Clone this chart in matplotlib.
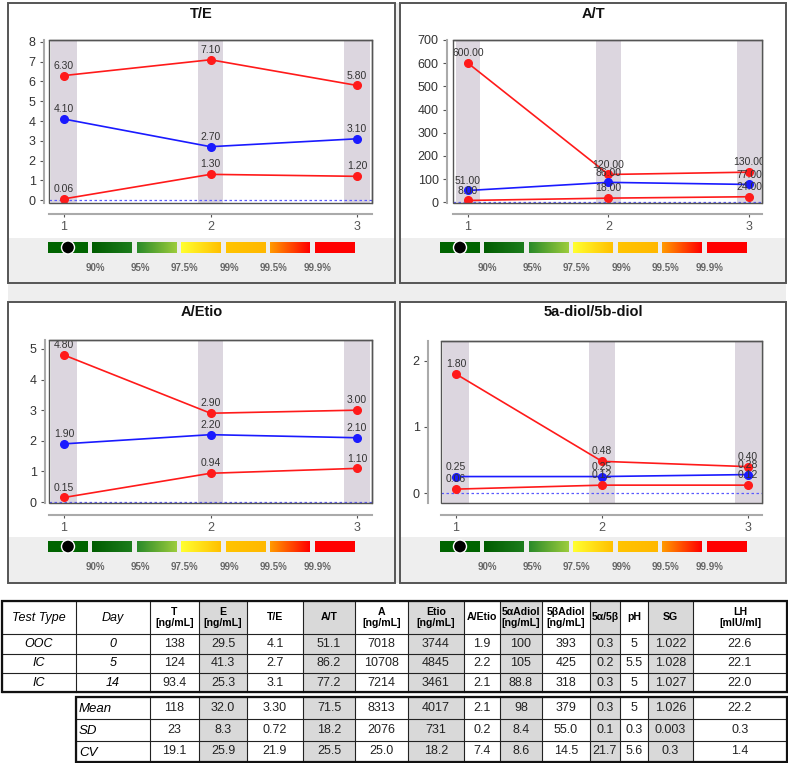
import numpy as np
import matplotlib
matplotlib.use('Agg')
import matplotlib.pyplot as plt
from matplotlib.patches import Rectangle, Circle
from matplotlib.colors import LinearSegmentedColormap

plt.rcParams['font.family'] = ['Liberation Sans', 'DejaVu Sans']

W, H = 788, 763

days = [1, 2, 3]

# each panel: upper limit, individual value, lower limit
te_hi = [6.30, 7.10, 5.80]
te_mid = [4.10, 2.70, 3.10]
te_lo = [0.06, 1.30, 1.20]

at_hi = [600.0, 120.0, 130.0]
at_mid = [51.0, 86.0, 77.0]
at_lo = [8.0, 18.0, 24.0]

ae_hi = [4.80, 2.90, 3.00]
ae_mid = [1.90, 2.20, 2.10]
ae_lo = [0.15, 0.94, 1.10]

dd_hi = [1.80, 0.48, 0.40]
dd_mid = [0.25, 0.25, 0.28]
dd_lo = [0.06, 0.12, 0.12]

pct_labels = ['90%', '95%', '97.5%', '99%', '99.5%', '99.9%']
seg_colors = [('#006400', '#006400'), ('#005c00', '#1c7c1c'), ('#2a8a2a', '#9ccc3c'),
              ('#ffff30', '#ffc000'), ('#ffc400', '#ffb800'), ('#ff9a00', '#ff0000'),
              ('#ff0000', '#ff0000')]

tbl_header = ['Test Type', 'Day', 'T\n[ng/mL]', 'E\n[ng/mL]', 'T/E', 'A/T', 'A\n[ng/mL]',
              'Etio\n[ng/mL]', 'A/Etio', '5αAdiol\n[ng/mL]', '5βAdiol\n[ng/mL]', '5α/5β',
              'pH', 'SG', 'LH\n[mIU/ml]']
tbl_type = ['OOC', 'IC', 'IC']
tbl_day = ['0', '5', '14']
tbl_rows = [
    ['138', '29.5', '4.1', '51.1', '7018', '3744', '1.9', '100', '393', '0.3', '5', '1.022', '22.6'],
    ['124', '41.3', '2.7', '86.2', '10708', '4845', '2.2', '105', '425', '0.2', '5.5', '1.028', '22.1'],
    ['93.4', '25.3', '3.1', '77.2', '7214', '3461', '2.1', '88.8', '318', '0.3', '5', '1.027', '22.0'],
]
stat_names = ['Mean', 'SD', 'CV']
stat_rows = [
    ['118', '32.0', '3.30', '71.5', '8313', '4017', '2.1', '98', '379', '0.3', '5', '1.026', '22.2'],
    ['23', '8.3', '0.72', '18.2', '2076', '731', '0.2', '8.4', '55.0', '0.1', '0.3', '0.003', '0.3'],
    ['19.1', '25.9', '21.9', '25.5', '25.0', '18.2', '7.4', '8.6', '14.5', '21.7', '5.6', '0.3', '1.4'],
]
shaded_cols = ['E', 'A/T', 'Etio', '5αAdiol', '5α/5β', 'SG']

# layout in pixels
panels = [
    dict(title='T/E', data=(te_hi, te_mid, te_lo), box=(8, 3, 395, 283), ax=(49, 40, 372, 203),
         yoff=5, xoff=11, ylim=(-0.15, 8.1), yticks=range(0, 9), xlim=(0.898, 3.102)),
    dict(title='A/T', data=(at_hi, at_mid, at_lo), box=(400, 3, 786, 283), ax=(453, 40, 762, 203),
         yoff=6, xoff=11, ylim=(-3, 700), yticks=range(0, 701, 100), xlim=(0.893, 3.093)),
    dict(title='A/Etio', data=(ae_hi, ae_mid, ae_lo), box=(8, 302, 395, 583), ax=(49, 340, 372, 503),
         yoff=4, xoff=12, ylim=(-0.03, 5.29), yticks=range(0, 6), xlim=(0.898, 3.102)),
    dict(title='5a-diol/5b-diol', data=(dd_hi, dd_mid, dd_lo), box=(400, 302, 786, 583),
         ax=(441, 341, 762, 503), yoff=13, xoff=12, ylim=(-0.15, 2.30), yticks=range(0, 3),
         xlim=(0.897, 3.096)),
]
col_x = [2, 76, 150, 199, 247, 303, 355, 408, 464, 500, 542, 590, 620, 648, 693, 787]
row_y = [601, 634, 654, 673, 692]
stat_y = [697, 719, 741, 762]

RED, BLUE = '#ff1a1a', '#1a1aff'
PX = 0.72  # points per pixel at dpi 100

fig = plt.figure(figsize=(W / 100, H / 100), dpi=100)
over = fig.add_axes([0, 0, 1, 1])
over.set_autoscale_on(False)
over.set_xlim(0, W)
over.set_ylim(H, 0)
over.axis('off')

over.add_patch(Rectangle((8, 3), 778, 580, fc='#eeeeee', ec='none'))

for p in panels:
    x0, y0, x1, y1 = p['box']
    over.add_patch(Rectangle((x0, y0), x1 - x0, y1 - y0, fc='white', ec='none'))
    over.add_patch(Rectangle((x0, y0 + 235), x1 - x0, y1 - y0 - 235, fc='#eeeeee', ec='none'))
    over.add_patch(Rectangle((x0, y0), x1 - x0, y1 - y0, fill=False, ec='#555555', lw=1.4))
    over.text((x0 + x1) / 2, y0 + 10.5, p['title'], ha='center', va='center',
              fontsize=10.5, fontweight='bold', color='#111111')

    # colour scale strip
    grad = np.linspace(0, 1, 64).reshape(1, -1)
    for k, (c0, c1) in enumerate(seg_colors):
        sx = x0 + 40 + k * 44.5
        cm = LinearSegmentedColormap.from_list('s%d' % k, [c0, c1])
        over.imshow(grad, cmap=cm, extent=(sx, sx + 40, y0 + 250, y0 + 239),
                    aspect='auto', interpolation='bilinear', zorder=2)
        if k == 0:
            over.add_patch(Circle((sx + 20, y0 + 244.5), 6.5, fc='black', ec='white', lw=1, zorder=3))
    for j, lab in enumerate(pct_labels):
        over.text(x0 + 40 + (j + 1) * 44.5 + 3, y0 + 265, lab, ha='center', va='center',
                  fontsize=7, fontweight='bold', color='#666666')

    l, t, r, b = p['ax']
    ax = fig.add_axes([l / W, 1 - b / H, (r - l) / W, (b - t) / H])
    for d in days:
        ax.axvspan(d - 0.087, d + 0.087, color='#dcd6df', lw=0, zorder=0)
    ax.axhline(0, color='#5a5aff', ls=(0, (2, 2)), lw=0.9, zorder=1)
    hi, mid, lo = p['data']
    for vals, col in ((hi, RED), (mid, BLUE), (lo, RED)):
        ax.plot(days, vals, color=col, lw=1.2, marker='o', ms=5.5, zorder=3)
        for d, v in zip(days, vals):
            ax.annotate(f'{v:.2f}', (d, v), xytext=(0, 3.5), textcoords='offset points',
                        ha='center', va='bottom', fontsize=7.5, color='#333333',
                        clip_on=True, zorder=4)
    ax.set_xlim(*p['xlim'])
    ax.set_ylim(*p['ylim'])
    ax.set_xticks(days)
    ax.set_yticks(list(p['yticks']))
    ax.spines['left'].set_position(('outward', p['yoff'] * PX))
    ax.spines['bottom'].set_position(('outward', p['xoff'] * PX))
    for s in ('left', 'bottom'):
        ax.spines[s].set_color('#aaaaaa')
        ax.spines[s].set_linewidth(1.5)
    for s in ('top', 'right'):
        ax.spines[s].set_color('#555555')
        ax.spines[s].set_linewidth(1.0)
    ax.add_patch(Rectangle((0, 0), 1, 1, transform=ax.transAxes, fill=False,
                           ec='#555555', lw=1.0, clip_on=False, zorder=5))
    ax.tick_params(colors='#555555', labelsize=9, length=3, width=0.8, pad=3)
    ax.tick_params(axis='y', labelcolor='#333333')
    ax.tick_params(axis='x', labelcolor='#555555', length=2)

# table
def shade(j, ya, yb):
    over.add_patch(Rectangle((col_x[j], ya), col_x[j + 1] - col_x[j], yb - ya,
                             fc='#d9d9d9', ec='none', zorder=1))

for j, name in enumerate(tbl_header):
    if name.split('\n')[0] in shaded_cols:
        shade(j, row_y[0], row_y[-1])
        shade(j, stat_y[0], stat_y[-1])

for xv in col_x:
    over.plot([xv, xv], [row_y[0], row_y[-1]], color='#222222', lw=0.8, zorder=2)
for yv in row_y:
    over.plot([col_x[0], col_x[-1]], [yv, yv], color='#222222', lw=0.8, zorder=2)
over.add_patch(Rectangle((col_x[0], row_y[0]), col_x[-1] - col_x[0], row_y[-1] - row_y[0],
                         fill=False, ec='#111111', lw=1.6, zorder=3))
for xv in col_x[1:]:
    over.plot([xv, xv], [stat_y[0], stat_y[-1]], color='#222222', lw=0.8, zorder=2)
for yv in stat_y:
    over.plot([col_x[1], col_x[-1]], [yv, yv], color='#222222', lw=0.8, zorder=2)
over.add_patch(Rectangle((col_x[1], stat_y[0]), col_x[-1] - col_x[1], stat_y[-1] - stat_y[0],
                         fill=False, ec='#111111', lw=1.6, zorder=3))

def cx(j):
    return (col_x[j] + col_x[j + 1]) / 2

for j, name in enumerate(tbl_header):
    ym = (row_y[0] + row_y[1]) / 2
    if j < 2:
        over.text(cx(j), ym, name, ha='center', va='center', fontsize=9, style='italic', zorder=4)
    else:
        over.text(cx(j), ym, name, ha='center', va='center', fontsize=7.6, fontweight='bold',
                  linespacing=1.15, zorder=4)

for i in range(len(tbl_rows)):
    ym = (row_y[i + 1] + row_y[i + 2]) / 2
    over.text(cx(0), ym, tbl_type[i], ha='center', va='center', fontsize=9, style='italic', zorder=4)
    over.text(cx(1), ym, tbl_day[i], ha='center', va='center', fontsize=9, style='italic', zorder=4)
    for j, v in enumerate(tbl_rows[i]):
        over.text(cx(j + 2), ym, v, ha='center', va='center', fontsize=9, color='#222222', zorder=4)

for i in range(len(stat_rows)):
    ym = (stat_y[i] + stat_y[i + 1]) / 2
    over.text(col_x[1] + 3, ym + 1, stat_names[i], ha='left', va='center', fontsize=9.5,
              style='italic', zorder=4)
    for j, v in enumerate(stat_rows[i]):
        over.text(cx(j + 2), ym, v, ha='center', va='center', fontsize=9, color='#222222', zorder=4)

fig.savefig('out.png', dpi=100)
